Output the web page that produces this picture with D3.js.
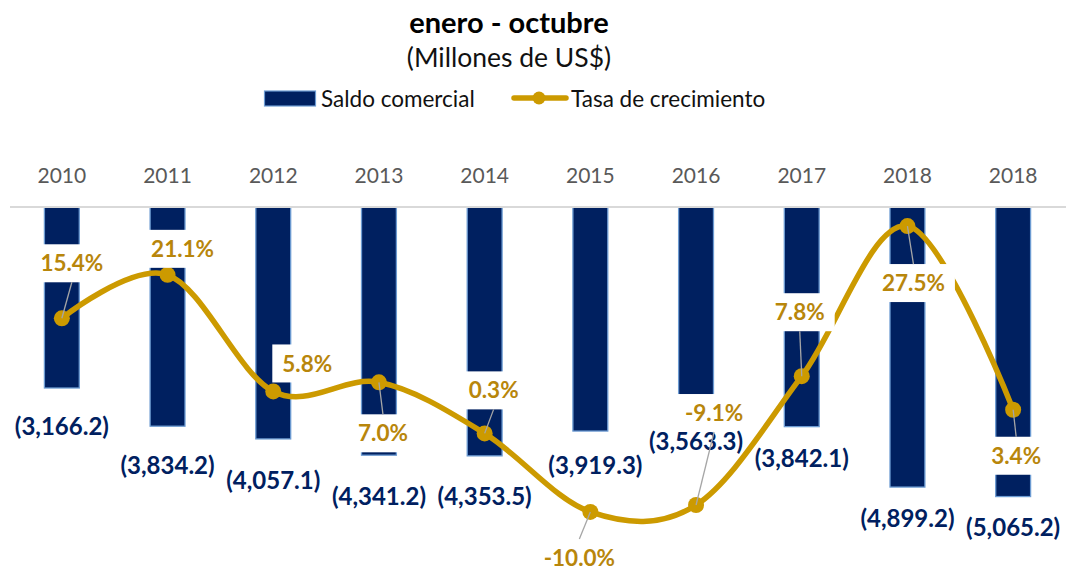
<!DOCTYPE html>
<html>
<head>
<meta charset="utf-8">
<script src="https://cdn.jsdelivr.net/npm/d3@7"></script>
<style>
  body { margin: 0; background: #fff; }
  text { font-family: Lato, "Open Sans", sans-serif; }
</style>
</head>
<body>
<svg></svg>
<script>
// categories + values
var years = ["2010", "2011", "2012", "2013", "2014", "2015", "2016", "2017", "2018", "2018"];
var saldo = [-3166.2, -3834.2, -4057.1, -4341.2, -4353.5, -3919.3, -3563.3, -3842.1, -4899.2, -5065.2];
var tasa = [15.4, 21.1, 5.8, 7.0, 0.3, -10.0, -9.1, 7.8, 27.5, 3.4];

// where excel left the labels (offset from the point / bar end)
var tasaNudge = [[10, -55], [15, -26], [34, -28], [4, 51], [9, -43], [-11, 46], [18, -92], [-2, -64], [6, 57], [3, 46]];
var saldoNudge = [[0, 38], [0, 39], [0, 41], [0, 41], [0, 40], [5, 34], [0, 31], [0, 32], [0, 31], [0, 31]];

var W = 1066, H = 570;
var navy = "#002060", gold = "#CC9A00", goldText = "#B8860B";

var svg = d3.select("svg")
    .attr("width", W)
    .attr("height", H);

var x = d3.scaleBand()
    .domain(d3.range(years.length))
    .range([9, 1066])
    .paddingInner(0.67)
    .paddingOuter(0.335);

var yBar = d3.scaleLinear().domain([-6000, 0]).range([550, 207]);
var yRate = d3.scaleLinear().domain([-15, 30]).range([550, 207]);

var cx = i => x(i) + x.bandwidth() / 2;

// plain hyphen for negatives, like excel
var loc = d3.formatLocale({decimal: ".", thousands: ",", grouping: [3], currency: ["$", ""], minus: "-"});

// title
svg.append("text")
    .attr("x", 509).attr("y", 33)
    .attr("text-anchor", "middle")
    .style("font-size", "29px").style("font-weight", "bold")
    .text("enero - octubre");

svg.append("text")
    .attr("x", 509).attr("y", 67)
    .attr("text-anchor", "middle")
    .style("font-size", "26.5px")
    .attr("fill", "#111")
    .text("(Millones de US$)");

// legend
var leg = svg.append("g");
leg.append("rect")
    .attr("x", 264.5).attr("y", 91).attr("width", 51).attr("height", 15)
    .attr("fill", navy).attr("stroke", "#6C9BD2").attr("stroke-width", 1.2);
leg.append("text")
    .attr("x", 321).attr("y", 98.5).attr("dy", "0.36em")
    .style("font-size", "22.5px").attr("fill", "#111")
    .text("Saldo comercial");
leg.append("line")
    .attr("x1", 514).attr("x2", 566).attr("y1", 98).attr("y2", 98)
    .attr("stroke", gold).attr("stroke-width", 5.5).attr("stroke-linecap", "round");
leg.append("circle")
    .attr("cx", 539).attr("cy", 98).attr("r", 6.5).attr("fill", gold);
leg.append("text")
    .attr("x", 571).attr("y", 98.5).attr("dy", "0.36em")
    .style("font-size", "22.5px").attr("fill", "#111")
    .text("Tasa de crecimiento");

// year axis on top
var xAxis = svg.append("g")
    .attr("transform", "translate(0,207)")
    .call(d3.axisTop(x).tickSize(0).tickPadding(24).tickFormat(i => years[i]));
xAxis.select(".domain").remove();
xAxis.selectAll("text")
    .style("font-size", "21px")
    .style("font-family", "Lato, sans-serif")
    .attr("fill", "#595959");

// bars
svg.append("g").selectAll("rect")
    .data(saldo)
    .enter().append("rect")
    .attr("x", (d, i) => x(i))
    .attr("y", yBar(0))
    .attr("width", x.bandwidth())
    .attr("height", d => yBar(d) - yBar(0))
    .attr("fill", navy)
    .attr("stroke", "#6C9BD2")
    .attr("stroke-width", 1.3);

svg.append("line")
    .attr("x1", 10).attr("x2", 1066).attr("y1", 207).attr("y2", 207)
    .attr("stroke", "#D9D9D9").attr("stroke-width", 2);

// growth line, excel-style smoothing
var line = d3.line()
    .x((d, i) => cx(i))
    .y(d => yRate(d))
    .curve(d3.curveCatmullRom.alpha(0));

svg.append("path")
    .datum(tasa)
    .attr("d", line)
    .attr("fill", "none")
    .attr("stroke", gold)
    .attr("stroke-width", 5.5);

svg.append("g").selectAll("circle")
    .data(tasa)
    .enter().append("circle")
    .attr("cx", (d, i) => cx(i))
    .attr("cy", d => yRate(d))
    .attr("r", 8)
    .attr("fill", gold);

// rate labels with white boxes
var fmtRate = loc.format(".1f");
var boxes = [];
var rl = svg.append("g");
tasa.forEach(function(v, i) {
  var lx = cx(i) + tasaNudge[i][0];
  var ly = yRate(v) + tasaNudge[i][1];
  var g = rl.append("g");
  var r = g.append("rect").attr("fill", "#fff");
  var t = g.append("text")
      .attr("x", lx).attr("y", ly).attr("dy", "0.36em")
      .attr("text-anchor", "middle")
      .style("font-size", "22.5px").style("font-weight", "bold")
      .attr("fill", goldText)
      .text(fmtRate(v) + "%");
  var w = t.node().getComputedTextLength() + 20;
  r.attr("x", lx - w / 2).attr("y", ly - 19).attr("width", w).attr("height", 38);
  boxes.push({x: lx, top: ly - 19, bottom: ly + 19});
});

// bar value labels
var fmtSaldo = loc.format(",.1f");
svg.append("g").selectAll("text")
    .data(saldo)
    .enter().append("text")
    .attr("x", (d, i) => cx(i) + saldoNudge[i][0])
    .attr("y", (d, i) => yBar(d) + saldoNudge[i][1])
    .attr("dy", "0.36em")
    .attr("text-anchor", "middle")
    .style("font-size", "24px").style("font-weight", "bold")
    .attr("fill", navy)
    .text(d => "(" + fmtSaldo(-d) + ")");

// leader lines
var ll = svg.append("g");
tasa.forEach(function(v, i) {
  var px = cx(i), py = yRate(v);
  var b = boxes[i];
  var ey = py > b.bottom ? b.bottom : b.top;
  if (Math.abs(py - ey) < 12) return;
  ll.append("line")
      .attr("x1", b.x).attr("y1", ey)
      .attr("x2", px).attr("y2", py)
      .attr("stroke", "#A6A6A6").attr("stroke-width", 1.3);
});
</script>
</body>
</html>
